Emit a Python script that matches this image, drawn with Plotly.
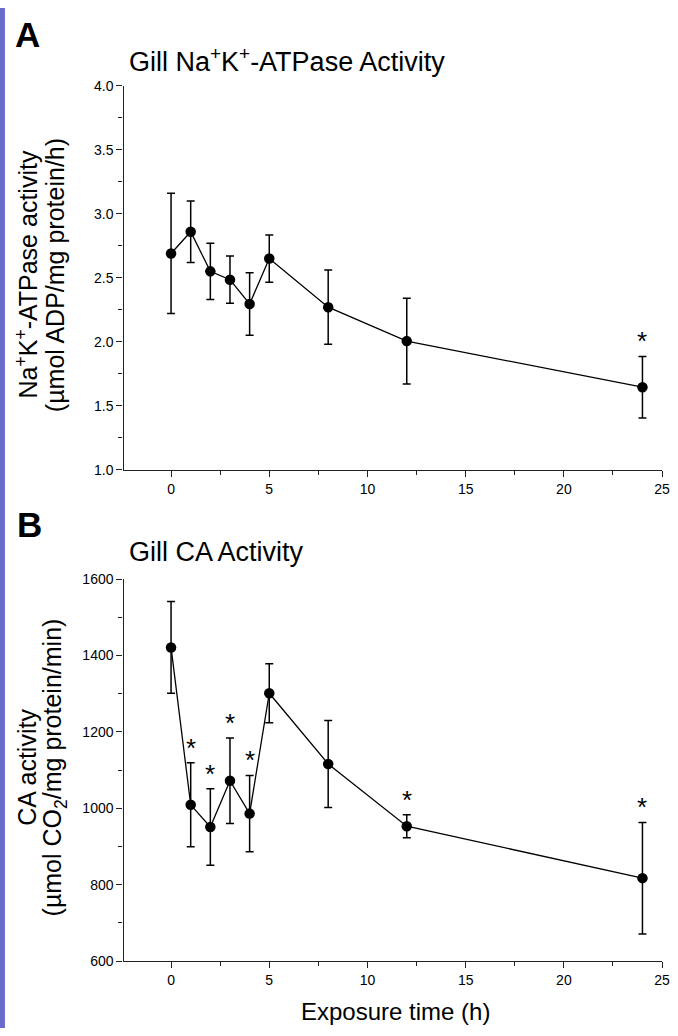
import plotly.graph_objects as go

# ---------- data ----------
time_h = [0, 1, 2, 3, 4, 5, 8, 12, 24]

nka_mean = [2.69, 2.86, 2.55, 2.485, 2.295, 2.65, 2.27, 2.005, 1.645]
nka_err = [0.47, 0.24, 0.22, 0.185, 0.245, 0.185, 0.29, 0.335, 0.24]
nka_sig = [24]

ca_mean = [1421, 1009, 951, 1072, 986, 1301, 1116, 953, 817]
ca_err = [120, 110, 100, 112, 100, 77, 114, 30, 146]
ca_sig = [1, 2, 3, 4, 12, 24]

x_ticks = [0, 5, 10, 15, 20, 25]
nka_ticks = [1.0, 1.5, 2.0, 2.5, 3.0, 3.5, 4.0]
ca_ticks = [600, 800, 1000, 1200, 1400, 1600]

W, H = 678, 1036
FONT = "Liberation Sans, Arial, sans-serif"

fig = go.Figure()

def add_series(xa, ya, y, e):
    fig.add_trace(go.Scatter(
        x=time_h, y=y, xaxis=xa, yaxis=ya, mode="lines+markers",
        line=dict(color="black", width=1.3),
        marker=dict(color="black", size=10.5, symbol="circle"),
        error_y=dict(type="data", array=e, visible=True, color="black",
                     thickness=1.5, width=4),
        showlegend=False, hoverinfo="skip"))

add_series("x", "y", nka_mean, nka_err)
add_series("x2", "y2", ca_mean, ca_err)

xdom = [125 / W, 670 / W]
ydomA = [1 - 469 / H, 1 - 79 / H]
ydomB = [1 - 968 / H, 1 - 580 / H]

axis_common = dict(showgrid=False, zeroline=False, showline=True,
                   linecolor="#222222", linewidth=1.4, ticks="outside",
                   ticklen=6, tickwidth=1.3, tickcolor="#222222",
                   tickfont=dict(family=FONT, size=14, color="black"))
minor_x = dict(dtick=2.5, tick0=0, ticks="outside", ticklen=4,
               tickcolor="#222222", tickwidth=1.3)

fig.update_layout(
    width=W, height=H, margin=dict(l=0, r=0, t=0, b=0),
    paper_bgcolor="white", plot_bgcolor="white",
    font=dict(family=FONT, color="black"),
    xaxis=dict(domain=xdom, range=[-2.42, 25], tickvals=x_ticks,
               anchor="y", minor=minor_x, **axis_common),
    yaxis=dict(domain=ydomA, range=[1, 4], tickvals=nka_ticks,
               tickformat=".1f", anchor="x",
               minor=dict(dtick=0.25, tick0=1, ticks="outside", ticklen=4,
                          tickcolor="#222222", tickwidth=1.3),
               **axis_common),
    xaxis2=dict(domain=xdom, range=[-2.42, 25], tickvals=x_ticks,
                anchor="y2", minor=minor_x, **axis_common),
    yaxis2=dict(domain=ydomB, range=[600, 1600], tickvals=ca_ticks,
                anchor="x2",
                minor=dict(dtick=100, tick0=600, ticks="outside", ticklen=4,
                           tickcolor="#222222", tickwidth=1.3),
                **axis_common),
)

def paper_text(text, px, py, size, xanchor="left", angle=0):
    return dict(text=text, x=px / W, y=1 - py / H, xref="paper", yref="paper",
                xanchor=xanchor, yanchor="middle", showarrow=False,
                textangle=angle, font=dict(family=FONT, size=size, color="black"))

ann = []
# panel letters
ann.append(paper_text("<b>A</b>", 13, 27, 35))
ann.append(paper_text("<b>B</b>", 15, 525, 35))
# panel titles
ann.append(paper_text("Gill Na<sup>+</sup>K<sup>+</sup>-ATPase Activity", 129, 53, 27))
ann.append(paper_text("Gill CA Activity", 129, 553, 27))
# y axis titles (two lines each)
ann.append(paper_text("Na<sup>+</sup>K<sup>+</sup>-ATPase activity", 27, 271, 25, "center", -90))
ann.append(paper_text("(µmol ADP/mg protein/h)", 55, 271, 25, "center", -90))
ann.append(paper_text("CA activity", 27, 771, 25, "center", -90))
ann.append(paper_text("(µmol CO<sub>2</sub>/mg protein/min)", 55, 771, 25, "center", -90))
# x axis title
ann.append(paper_text("Exposure time (h)", 400, 1019, 24, "center"))

# significance asterisks
for t in nka_sig:
    i = time_h.index(t)
    ann.append(dict(text="*", x=t, y=nka_mean[i] + nka_err[i], xref="x", yref="y",
                    xanchor="center", yanchor="bottom", yshift=-2, showarrow=False,
                    font=dict(family=FONT, size=26, color="black")))
for t in ca_sig:
    i = time_h.index(t)
    ann.append(dict(text="*", x=t, y=ca_mean[i] + ca_err[i], xref="x2", yref="y2",
                    xanchor="center", yanchor="bottom", yshift=-2, showarrow=False,
                    font=dict(family=FONT, size=26, color="black")))

fig.update_layout(annotations=ann)

# left coloured stripe
fig.add_shape(type="rect", xref="paper", yref="paper", x0=0, x1=5 / W, y0=0, y1=1,
              fillcolor="#6a6acc", line=dict(width=0), layer="above")

fig.write_html("out.html")
